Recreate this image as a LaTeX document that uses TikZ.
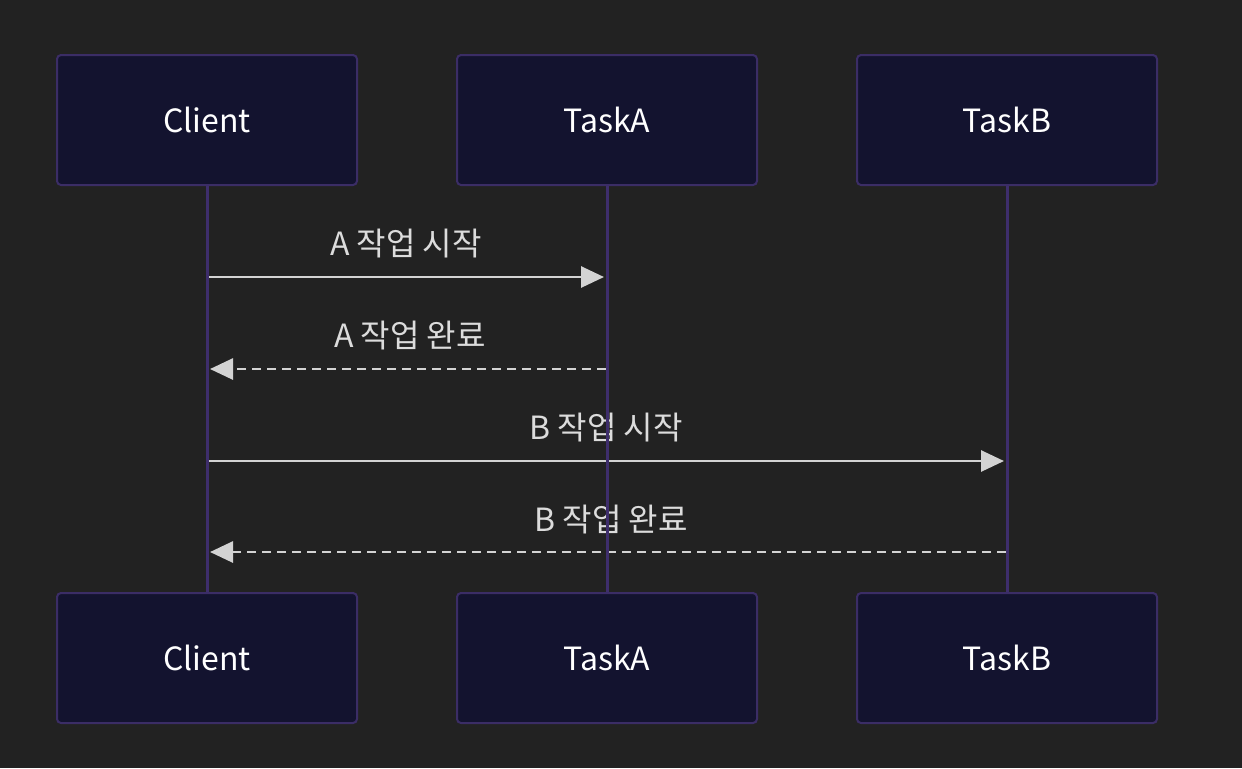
\documentclass[tikz,border=0pt]{standalone}
\usepackage{fontspec}
\setmainfont{Noto Sans CJK KR}
\usetikzlibrary{arrows.meta}
\definecolor{bgc}{HTML}{222222}
\definecolor{boxfill}{HTML}{13132F}
\definecolor{boxline}{HTML}{3B2D66}
\definecolor{lifec}{HTML}{3E2E6C}
\definecolor{msgc}{HTML}{D3D3D3}
\definecolor{txtc}{HTML}{DCDCDC}
\tikzset{
  actor/.style={draw=boxline, line width=1pt, fill=boxfill, rounded corners=2pt,
    minimum width=150pt, minimum height=65pt, inner sep=0pt,
    text=white, font=\fontsize{16}{19}\selectfont},
  life/.style={draw=lifec, line width=1.5pt},
  msg/.style={draw=msgc, line width=1.4pt, -{Triangle[length=11.5pt,width=10.5pt]}, shorten >=1pt},
  reply/.style={msg, dash pattern=on 4.5pt off 3pt},
  lbl/.style={text=txtc, font=\fontsize{16}{19}\selectfont, inner sep=0pt}
}
\begin{document}
\begin{tikzpicture}[x=0.5pt,y=-0.5pt]
\fill[bgc] (0,0) rectangle (1242,768);
\useasboundingbox (0,0) rectangle (1242,768);
% actors
\node[actor] (ct) at (207,120) {Client};
\node[actor] (at) at (607,120) {TaskA};
\node[actor] (bt) at (1007,120) {TaskB};
\node[actor] (cb) at (207,658) {Client};
\node[actor] (ab) at (607,658) {TaskA};
\node[actor] (bb) at (1007,658) {TaskB};
% message anchor points
\coordinate (c1) at (208,277); \coordinate (a1) at (606,277);
\coordinate (a2) at (606,369); \coordinate (c2) at (208,369);
\coordinate (c3) at (208,461); \coordinate (b3) at (1006,461);
\coordinate (b4) at (1006,552); \coordinate (c4) at (208,552);
% messages
\draw[msg] (c1) -- (a1);
\node[lbl] (l1) at (406,244) {A 작업 시작};
\draw[reply] (a2) -- (c2);
\node[lbl] (l2) at (410,336) {A 작업 완료};
\draw[msg] (c3) -- (b3);
\node[lbl] (l3) at (606,428) {B 작업 시작};
\draw[reply] (b4) -- (c4);
\node[lbl] (l4) at (611,519) {B 작업 완료};
% lifelines
\draw[life] (ct.south) -- (cb.north);
\draw[life] (at.south) -- (ab.north);
\draw[life] (bt.south) -- (bb.north);
\end{tikzpicture}
\end{document}
